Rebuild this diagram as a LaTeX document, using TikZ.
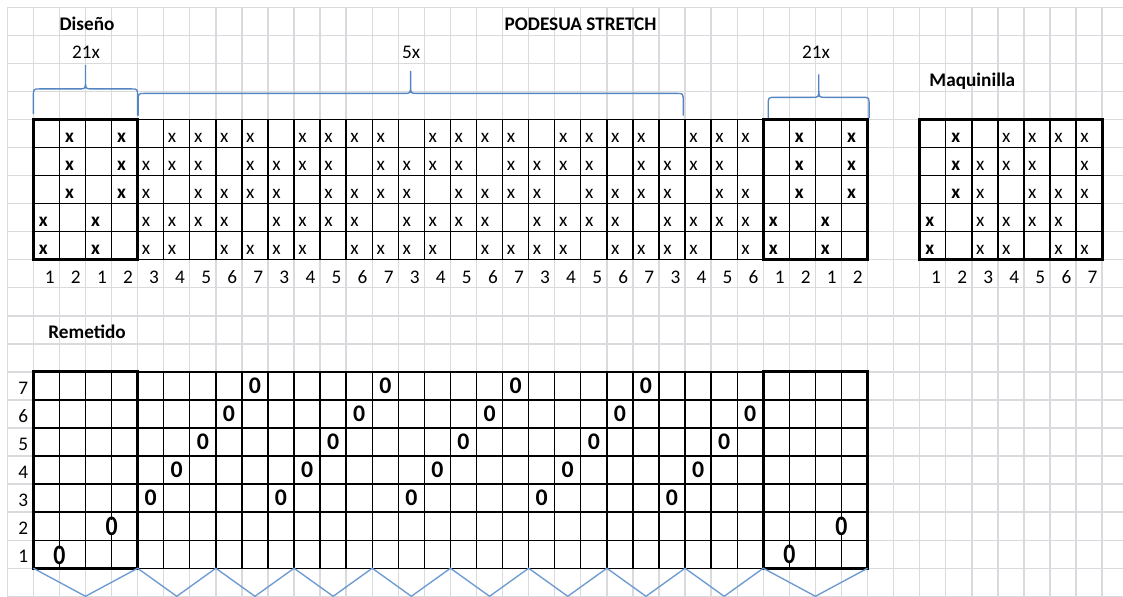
\documentclass[tikz,border=0pt]{standalone}
\usepackage{fontspec}
\setmainfont{Carlito}
\usepackage{graphicx}
\definecolor{gridgray}{RGB}{216,218,221}
\definecolor{bracecol}{RGB}{86,134,194}
\definecolor{zigcol}{RGB}{110,155,210}
\begin{document}
\begin{tikzpicture}[x=0.5cm,y=0.53798cm,
  gridline/.style={draw=gridgray,line width=0.75pt},
  cellline/.style={draw=black,line width=0.75pt},
  boxline/.style={draw=black,line width=1.6pt},
  bracestyle/.style={draw=bracecol,line width=0.75pt},
  zigstyle/.style={draw=zigcol,line width=0.75pt},
  txt/.style={inner sep=0pt,font=\fontsize{10.5}{12}\selectfont},
  title/.style={inner sep=0pt,font=\fontsize{10.5}{12}\selectfont\bfseries,anchor=base},
  xmark/.style={txt,anchor=base west},
  xbold/.style={txt,anchor=base west,font=\fontsize{10.5}{12}\selectfont\bfseries},
  numlab/.style={txt,anchor=base east},
  omark/.style={inner sep=0pt,font=\fontsize{13}{14}\selectfont\bfseries},
]
\useasboundingbox (-0.28,0.26) rectangle (42.80,-21.023);

% spreadsheet grid
\foreach \i in {0,...,42} \draw[gridline] (\i,0) -- (\i,-21.023);
\foreach \j in {0,...,21} \draw[gridline] (0,-\j) -- (42.80,-\j);

% titles
\node[title] (diseno) at (3.06,-0.81) {Diseño};
\node[title] (podesua) at (21.99,-0.81) {PODESUA STRETCH};
\node[title,font=\fontsize{10.5}{12}\selectfont] (rep1) at (3.02,-1.81) {21x};
\node[title,font=\fontsize{10.5}{12}\selectfont] (rep2) at (15.49,-1.81) {5x};
\node[title,font=\fontsize{10.5}{12}\selectfont] (rep3) at (31.02,-1.81) {21x};
\node[title] (maqui) at (37.02,-2.81) {Maquinilla};
\node[title] (remet) at (3.06,-11.80) {Remetido};

% braces
\draw[bracestyle] (1,-3.80) -- (1,-3.21) .. controls (1,-2.91) .. (1.25,-2.91)
  -- (2.75,-2.91) .. controls (3,-2.91) .. (3,-2.61) -- (3,-2.06)
  -- (3,-2.61) .. controls (3,-2.91) .. (3.25,-2.91)
  -- (4.75,-2.91) .. controls (5,-2.91) .. (5,-3.21) -- (5,-3.86);
\draw[bracestyle] (5.02,-3.86) -- (5.02,-3.37) .. controls (5.02,-3.07) .. (5.27,-3.07)
  -- (15.22,-3.07) .. controls (15.47,-3.07) .. (15.47,-2.77) -- (15.47,-2.27)
  -- (15.47,-2.77) .. controls (15.47,-3.07) .. (15.72,-3.07)
  -- (25.68,-3.07) .. controls (25.93,-3.07) .. (25.93,-3.37) -- (25.93,-3.86);
\draw[bracestyle] (29.19,-3.95) -- (29.19,-3.51) .. controls (29.19,-3.21) .. (29.44,-3.21)
  -- (30.88,-3.21) .. controls (31.13,-3.21) .. (31.13,-2.91) -- (31.13,-2.39)
  -- (31.13,-2.91) .. controls (31.13,-3.21) .. (31.38,-3.21)
  -- (32.81,-3.21) .. controls (33.06,-3.21) .. (33.06,-3.51) -- (33.06,-3.95);

% design table
\foreach \i in {1,...,33} \draw[cellline] (\i,-4) -- (\i,-9);
\foreach \j in {4,...,9} \draw[cellline] (1,-\j) -- (33,-\j);
\draw[boxline] (1,-4) rectangle (5,-9);
\draw[boxline] (29,-4) rectangle (33,-9);

% maquinilla table
\foreach \i in {35,...,42} \draw[cellline] (\i,-4) -- (\i,-9);
\foreach \j in {4,...,9} \draw[cellline] (35,-\j) -- (42,-\j);
\draw[boxline] (35,-4) rectangle (42,-9);

% design marks (middle part)
\foreach \r/\e in {4/3,5/6,6/4,7/7,8/5} {
  \foreach \c in {5,...,28} {
    \pgfmathtruncatemacro\L{3+mod(\c-5,5)}
    \ifnum\L=\e\relax\else
      \node[xmark] (d-\r-\c) at (\c+0.15,-\r-0.83) {x};
    \fi
  }
  % maquinilla treadles 3..7
  \foreach \t in {3,...,7} {
    \ifnum\t=\e\relax\else
      \node[xmark] (m-\r-\t) at (34+\t+0.15,-\r-0.83) {x};
    \fi
  }
}
% bold marks in the edge boxes and treadles 1-2
\foreach \r in {4,5,6} {
  \foreach \c in {2,4,30,32} \node[xbold] (b-\r-\c) at (\c+0.2,-\r-0.83) {x};
  \node[xbold] (mb-\r) at (36.2,-\r-0.83) {x};
}
\foreach \r in {7,8} {
  \foreach \c in {1,3,29,31} \node[xbold] (b-\r-\c) at (\c+0.2,-\r-0.83) {x};
  \node[xbold] (mb-\r) at (35.2,-\r-0.83) {x};
}

% column numbers
\foreach \c/\n in {1/1,2/2,3/1,4/2,29/1,30/2,31/1,32/2} \node[numlab] (n-\c) at (\c+0.83,-9.83) {\n};
\foreach \c in {5,...,28} {
  \pgfmathtruncatemacro\L{3+mod(\c-5,5)}
  \node[numlab] (n-\c) at (\c+0.83,-9.83) {\L};
}
\foreach \t in {1,...,7} \node[numlab] (mn-\t) at (34+\t+0.83,-9.83) {\t};

% remetido table
\foreach \i in {1,...,33} \draw[cellline] (\i,-13) -- (\i,-20);
\foreach \j in {13,...,20} \draw[cellline] (1,-\j) -- (33,-\j);
\draw[boxline] (1,-13) rectangle (5,-20);
\draw[boxline] (29,-13) rectangle (33,-20);

\foreach \r in {13,...,19} {
  \pgfmathtruncatemacro\L{20-\r}
  \node[numlab] (rl-\r) at (0.81,-\r-0.8) {\L};
}
\foreach \c in {5,...,28} {
  \pgfmathtruncatemacro\L{3+mod(\c-5,5)}
  \pgfmathtruncatemacro\R{20-\L}
  \node[omark] (o-\c) at (\c+0.5,-\R-0.5) {0};
}
\foreach \p/\q in {2/19.55,4/18.52,30/19.52,32/18.52}
  \fill[white] (\p,-\q) ellipse (0.13 and 0.24);
\node[omark] (ob1) at (2,-19.55) {\scalebox{1}[1.18]{0}};
\node[omark] (ob2) at (4,-18.52) {\scalebox{1}[1.18]{0}};
\node[omark] (ob3) at (30,-19.52) {\scalebox{1}[1.18]{0}};
\node[omark] (ob4) at (32,-18.52) {\scalebox{1}[1.18]{0}};

% zigzag
\draw[zigstyle] (1,-20) -- (3,-21) -- (5,-20) -- (6.5,-21) -- (8,-20) -- (9.5,-21)
  -- (11,-20) -- (12.5,-21) -- (14,-20) -- (15.5,-21) -- (17,-20) -- (18.5,-21)
  -- (20,-20) -- (21.5,-21) -- (23,-20) -- (24.5,-21) -- (26,-20) -- (27.5,-21)
  -- (29,-20) -- (31,-21) -- (33,-20);
\end{tikzpicture}
\end{document}
